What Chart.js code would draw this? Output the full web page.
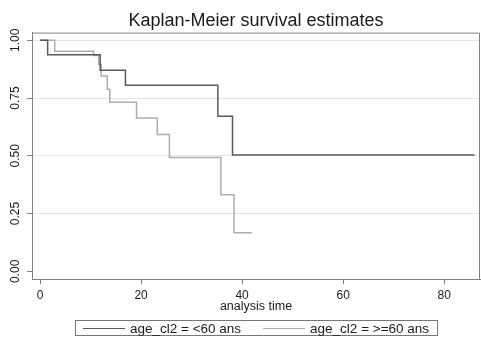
<!DOCTYPE html>
<html>
<head>
<meta charset="utf-8">
<script src="https://cdn.jsdelivr.net/npm/chart.js@4.4.0/dist/chart.umd.min.js"></script>
<style>
  html, body { margin: 0; padding: 0; background: #fff; }
  #wrap { width: 481px; height: 354px; }
</style>
</head>
<body>
<div id="wrap"><canvas id="km"></canvas></div>
<script>
  // survival steps
  const timesYoung = [0, 1.5, 11.9, 16.9, 35.2, 38.1, 86];
  const survYoung = [1, 0.937, 0.87, 0.805, 0.671, 0.503, 0.503];
  const timesOld = [0, 2.9, 10.6, 11.6, 12.1, 13.3, 13.8, 19.1, 23.2, 25.6, 35.8, 38.4, 41.9];
  const survOld = [1, 0.952, 0.934, 0.895, 0.845, 0.788, 0.732, 0.663, 0.592, 0.493, 0.332, 0.167, 0.167];
  const xTicks = [0, 20, 40, 60, 80];
  const yTicks = [0, 0.25, 0.5, 0.75, 1];
  const groupLabels = ["age_cl2 = <60 ans", "age_cl2 = >=60 ans"];

  const FONT = "'Liberation Sans', Arial, Helvetica, sans-serif";
  const axisGray = "#808080";
  const textColor = "#1a1a1a";

  function toPoints(xs, ys) {
    return xs.map((x, i) => ({ x: x, y: ys[i] }));
  }

  // box around plot region + stata style legend box under the axis title
  const framePlugin = {
    id: "frame",
    afterDraw(chart) {
      const ctx = chart.ctx;
      const a = chart.chartArea;
      ctx.save();
      ctx.strokeStyle = axisGray;
      ctx.lineWidth = 1;
      ctx.beginPath();
      ctx.moveTo(a.left, a.top + 0.5);
      ctx.lineTo(a.right - 0.5, a.top + 0.5);
      ctx.lineTo(a.right - 0.5, a.bottom);
      ctx.stroke();

      // legend
      const sample = 42, gapText = 5, gapItem = 22;
      ctx.font = "13.5px " + FONT;
      const items = chart.data.datasets.map(ds => ({
        text: ds.label,
        color: ds.borderColor,
        w: ctx.measureText(ds.label).width
      }));
      let total = 0;
      items.forEach((it, i) => {
        total += sample + gapText + it.w + (i > 0 ? gapItem : 0);
      });
      const cy = 328;
      let x = Math.round((a.left + a.right) / 2 - total / 2);
      ctx.strokeStyle = "#777";
      ctx.strokeRect(x - 8 + 0.5, cy - 8 + 0.5, Math.round(total + 16), 15);
      ctx.textBaseline = "middle";
      ctx.textAlign = "left";
      items.forEach((it, i) => {
        if (i > 0) x += gapItem;
        ctx.strokeStyle = it.color;
        ctx.beginPath();
        ctx.moveTo(x, cy + 0.5);
        ctx.lineTo(x + sample, cy + 0.5);
        ctx.stroke();
        x += sample + gapText;
        ctx.fillStyle = textColor;
        ctx.fillText(it.text, x, cy + 1);
        x += it.w;
      });
      ctx.restore();
    }
  };

  const ctx = document.getElementById("km").getContext("2d");
  new Chart(ctx, {
    type: "line",
    data: {
      datasets: [
        {
          label: groupLabels[0],
          data: toPoints(timesYoung, survYoung),
          borderColor: "#595959",
          borderWidth: 1.5,
          stepped: true,
          pointRadius: 0,
          fill: false
        },
        {
          label: groupLabels[1],
          data: toPoints(timesOld, survOld),
          borderColor: "#adadad",
          borderWidth: 1.5,
          stepped: true,
          pointRadius: 0,
          fill: false
        }
      ]
    },
    options: {
      responsive: true,
      maintainAspectRatio: false,
      animation: false,
      layout: { padding: { top: 0, right: 1, left: 0, bottom: 40 } },
      plugins: {
        title: {
          display: true,
          fullSize: false,
          text: "Kaplan-Meier survival estimates",
          color: textColor,
          font: { family: FONT, size: 18, weight: "normal" },
          padding: { top: 10, bottom: 1 }
        },
        legend: { display: false },
        tooltip: { enabled: false }
      },
      scales: {
        x: {
          type: "linear",
          min: -1.6,
          max: 87.1,
          afterBuildTicks(scale) {
            scale.ticks = xTicks.map(v => ({ value: v }));
          },
          afterFit(scale) {
            scale.height = 35;
          },
          ticks: {
            color: textColor,
            font: { family: FONT, size: 12 },
            padding: 4,
            maxRotation: 0
          },
          grid: {
            color: "transparent",
            tickColor: axisGray,
            tickLength: 5
          },
          border: { display: true, color: axisGray, width: 1 },
          title: {
            display: true,
            text: "analysis time",
            color: textColor,
            font: { family: FONT, size: 12.5 },
            padding: { top: 0, bottom: 0 }
          }
        },
        y: {
          type: "linear",
          min: -0.033,
          max: 1.033,
          afterBuildTicks(scale) {
            scale.ticks = yTicks.map(v => ({ value: v }));
          },
          afterFit(scale) {
            scale.width = 32;
          },
          ticks: {
            color: textColor,
            font: { family: FONT, size: 12 },
            minRotation: 90,
            maxRotation: 90,
            crossAlign: "center",
            padding: 0,
            callback: v => v.toFixed(2)
          },
          grid: {
            color: c => (c.tick && c.tick.value === 0 ? "transparent" : "#e4e4e4"),
            tickColor: axisGray,
            tickLength: 5
          },
          border: { display: true, color: axisGray, width: 1 }
        }
      }
    },
    plugins: [framePlugin]
  });
</script>
</body>
</html>
